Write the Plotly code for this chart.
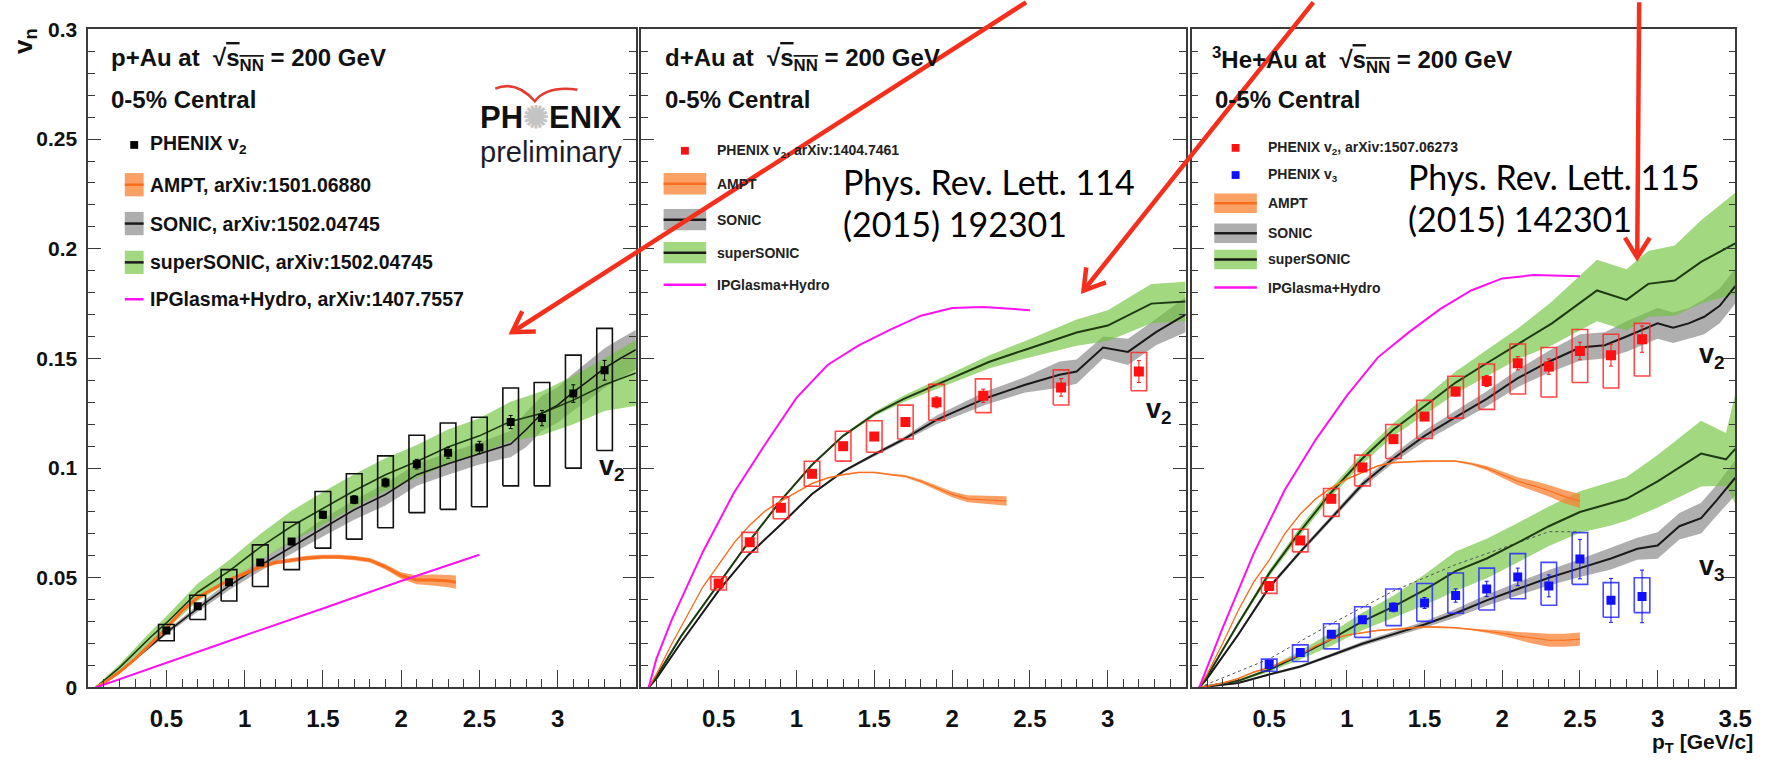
import math
import plotly.graph_objects as go

W, H = 1780, 778

# ---------------- p+Au, 0-5% central ----------------
pAu_pt = [0.5, 0.7, 0.9, 1.1, 1.3, 1.5, 1.7, 1.9, 2.1, 2.3, 2.5, 2.7, 2.9, 3.1, 3.3]
pAu_v2 = [0.026, 0.037, 0.048, 0.057, 0.0665, 0.0787, 0.0856, 0.0934, 0.1018, 0.107, 0.1094, 0.121, 0.1228, 0.134, 0.1446]
pAu_v2_stat = [0.0008, 0.001, 0.001, 0.0012, 0.0014, 0.0016, 0.0018, 0.002, 0.0022, 0.0025, 0.0028, 0.003, 0.0035, 0.004, 0.0045]
pAu_v2_sys_lo = [0.0213, 0.031, 0.0394, 0.046, 0.0537, 0.0635, 0.0676, 0.0728, 0.0797, 0.0812, 0.0824, 0.0919, 0.0919, 0.100, 0.108]
pAu_v2_sys_hi = [0.0287, 0.042, 0.0537, 0.065, 0.0753, 0.0893, 0.0974, 0.1056, 0.115, 0.1206, 0.1232, 0.1365, 0.139, 0.1515, 0.1637]

pAu_ampt_pt = [0.05, 0.1, 0.2, 0.3, 0.4, 0.5, 0.6, 0.7, 0.8, 0.9, 1.0, 1.1, 1.2, 1.3, 1.4, 1.5, 1.6, 1.7, 1.8, 1.9, 2.0, 2.1, 2.2, 2.3, 2.35]
pAu_ampt_v2 = [0.0, 0.002, 0.007, 0.013, 0.020, 0.027, 0.035, 0.041, 0.045, 0.049, 0.052, 0.055, 0.057, 0.058, 0.059, 0.0595, 0.0595, 0.059, 0.058, 0.055, 0.051, 0.049, 0.049, 0.0485, 0.048]
pAu_ampt_err = [0.0005, 0.0005, 0.0006, 0.0006, 0.0007, 0.0007, 0.0008, 0.0008, 0.0008, 0.0009, 0.0009, 0.001, 0.001, 0.001, 0.001, 0.001, 0.001, 0.001, 0.001, 0.0012, 0.0015, 0.002, 0.0025, 0.0028, 0.003]

pAu_sonic_pt = [0.05, 0.1, 0.2, 0.3, 0.4, 0.5, 0.7, 0.9, 1.1, 1.3, 1.5, 1.7, 1.9, 2.1, 2.3, 2.5, 2.7, 2.8, 2.9, 3.0, 3.1, 3.2, 3.3, 3.4, 3.5]
pAu_sonic_v2 = [0.0, 0.002, 0.007, 0.013, 0.019, 0.025, 0.036, 0.0463, 0.0556, 0.064, 0.0728, 0.081, 0.088, 0.097, 0.102, 0.1066, 0.111, 0.1176, 0.125, 0.1287, 0.1346, 0.14, 0.1456, 0.15, 0.154]
pAu_sonic_err = [0.0005, 0.0005, 0.0006, 0.0008, 0.001, 0.001, 0.0015, 0.002, 0.0025, 0.003, 0.004, 0.0045, 0.005, 0.005, 0.005, 0.005, 0.006, 0.008, 0.008, 0.008, 0.0085, 0.009, 0.009, 0.009, 0.009]

pAu_super_pt = [0.05, 0.1, 0.2, 0.3, 0.4, 0.5, 0.7, 0.9, 1.1, 1.3, 1.5, 1.7, 1.9, 2.1, 2.3, 2.5, 2.7, 2.9, 3.1, 3.3, 3.5]
pAu_super_v2 = [0.0, 0.003, 0.009, 0.016, 0.023, 0.0294, 0.0434, 0.053, 0.064, 0.0735, 0.0816, 0.0897, 0.097, 0.103, 0.1096, 0.1147, 0.1213, 0.125, 0.131, 0.138, 0.1434]
pAu_super_err = [0.0005, 0.001, 0.0015, 0.002, 0.0025, 0.003, 0.004, 0.005, 0.006, 0.007, 0.0075, 0.0075, 0.0075, 0.0075, 0.008, 0.008, 0.009, 0.01, 0.011, 0.012, 0.015]

pAu_ipg_pt = [0.05, 0.5, 1.0, 1.5, 2.0, 2.5]
pAu_ipg_v2 = [0.0, 0.0113, 0.0237, 0.036, 0.0485, 0.0605]

# ---------------- d+Au, 0-5% central ----------------
dAu_pt = [0.5, 0.7, 0.9, 1.1, 1.3, 1.5, 1.7, 1.9, 2.2, 2.7, 3.2]
dAu_v2 = [0.0474, 0.0662, 0.0819, 0.0974, 0.110, 0.1144, 0.121, 0.130, 0.133, 0.1368, 0.144]
dAu_v2_stat = [0.0008, 0.001, 0.0012, 0.0014, 0.0016, 0.0018, 0.002, 0.0025, 0.003, 0.004, 0.005]
dAu_v2_sys = [0.003, 0.0045, 0.005, 0.0057, 0.0068, 0.0072, 0.0077, 0.0082, 0.0077, 0.008, 0.0087]

dAu_ampt_pt = [0.05, 0.1, 0.2, 0.3, 0.4, 0.5, 0.6, 0.7, 0.8, 0.9, 1.0, 1.1, 1.2, 1.3, 1.4, 1.5, 1.6, 1.7, 1.8, 1.9, 2.0, 2.1, 2.2, 2.3, 2.35]
dAu_ampt_v2 = [0.0, 0.006, 0.02, 0.033, 0.046, 0.056, 0.066, 0.074, 0.0805, 0.085, 0.089, 0.093, 0.0955, 0.097, 0.098, 0.098, 0.097, 0.0963, 0.094, 0.091, 0.088, 0.086, 0.0855, 0.0852, 0.085]
dAu_ampt_err = [0.0004] * 16 + [0.0005, 0.0006, 0.0008, 0.001, 0.0013, 0.0016, 0.0019, 0.0021, 0.0022]

dAu_sonic_pt = [0.05, 0.1, 0.26, 0.5, 0.69, 0.9, 1.1, 1.3, 1.51, 1.69, 1.9, 2.22, 2.47, 2.69, 2.8, 2.97, 3.13, 3.31, 3.5]
dAu_sonic_v2 = [0.0, 0.004, 0.0206, 0.0441, 0.0603, 0.0743, 0.0882, 0.0985, 0.1066, 0.1132, 0.122, 0.132, 0.138, 0.1426, 0.144, 0.155, 0.153, 0.162, 0.170]
dAu_sonic_err = [0.0005, 0.0005, 0.0005, 0.0005, 0.0005, 0.0005, 0.0005, 0.0005, 0.0008, 0.001, 0.002, 0.003, 0.0035, 0.006, 0.0055, 0.005, 0.006, 0.006, 0.008]

dAu_super_pt = [0.05, 0.1, 0.26, 0.5, 0.69, 0.9, 1.1, 1.3, 1.51, 1.69, 1.9, 2.24, 2.47, 2.8, 3.0, 3.28, 3.5]
dAu_super_v2 = [0.0, 0.005, 0.0235, 0.047, 0.066, 0.0853, 0.1015, 0.1147, 0.125, 0.1316, 0.138, 0.1485, 0.154, 0.1618, 0.165, 0.175, 0.176]
dAu_super_err = [0.0005, 0.0005, 0.0005, 0.0005, 0.0005, 0.0005, 0.0005, 0.0005, 0.001, 0.0015, 0.002, 0.003, 0.004, 0.006, 0.007, 0.009, 0.009]

dAu_ipg_pt = [0.05, 0.1, 0.2, 0.4, 0.6, 0.8, 1.0, 1.2, 1.4, 1.6, 1.8, 2.0, 2.2, 2.5]
dAu_ipg_v2 = [0.0, 0.013, 0.031, 0.062, 0.089, 0.111, 0.132, 0.147, 0.156, 0.163, 0.1695, 0.173, 0.1735, 0.172]

# ---------------- 3He+Au, 0-5% central ----------------
he_pt = [0.5, 0.7, 0.9, 1.1, 1.3, 1.5, 1.7, 1.9, 2.1, 2.3, 2.5, 2.7, 2.9]
he_v2 = [0.0463, 0.067, 0.086, 0.1003, 0.1132, 0.1235, 0.1349, 0.1397, 0.1478, 0.1463, 0.1534, 0.1515, 0.1588]
he_v2_stat = [0.0008, 0.001, 0.0012, 0.0013, 0.0015, 0.0017, 0.002, 0.0025, 0.003, 0.0035, 0.004, 0.005, 0.006]
he_v2_sys_lo = [0.0429, 0.0618, 0.078, 0.0919, 0.1044, 0.1135, 0.1228, 0.1268, 0.1338, 0.1324, 0.139, 0.1365, 0.142]
he_v2_sys_hi = [0.050, 0.0721, 0.0907, 0.1059, 0.1199, 0.1309, 0.1419, 0.1475, 0.1566, 0.155, 0.1632, 0.161, 0.166]
he_v3 = [0.0105, 0.0159, 0.0243, 0.0309, 0.0365, 0.0385, 0.0419, 0.0449, 0.0504, 0.0463, 0.0585, 0.0397, 0.0415]
he_v3_stat = [0.0008, 0.001, 0.0012, 0.0015, 0.002, 0.0025, 0.003, 0.0035, 0.004, 0.005, 0.009, 0.01, 0.012]
he_v3_sys_lo = [0.0074, 0.0118, 0.0176, 0.0228, 0.0282, 0.0301, 0.0338, 0.0353, 0.0404, 0.0375, 0.047, 0.032, 0.0341]
he_v3_sys_hi = [0.0129, 0.0194, 0.029, 0.0368, 0.0449, 0.0474, 0.0522, 0.0544, 0.061, 0.057, 0.0706, 0.0478, 0.050]

he_ampt_pt = [0.05, 0.1, 0.2, 0.3, 0.4, 0.5, 0.6, 0.7, 0.8, 0.9, 1.0, 1.1, 1.2, 1.3, 1.4, 1.5, 1.6, 1.7, 1.8, 1.9, 2.0, 2.1, 2.2, 2.3, 2.4, 2.5]
he_ampt_v2 = [0.0, 0.006, 0.02, 0.035, 0.048, 0.058, 0.07, 0.079, 0.086, 0.091, 0.095, 0.098, 0.101, 0.1025, 0.103, 0.1032, 0.1032, 0.1032, 0.102, 0.100, 0.097, 0.094, 0.092, 0.0897, 0.087, 0.085]
he_ampt_v2_err = [0.0004] * 18 + [0.0006, 0.001, 0.0014, 0.0018, 0.0022, 0.0026, 0.003, 0.0032]
he_ampt_v3 = [0.0, 0.0005, 0.002, 0.004, 0.007, 0.009, 0.012, 0.015, 0.019, 0.022, 0.0238, 0.025, 0.026, 0.0265, 0.027, 0.0276, 0.0275, 0.0272, 0.0265, 0.0257, 0.0247, 0.0235, 0.0224, 0.0215, 0.0215, 0.022]
he_ampt_v3_err = [0.0004] * 19 + [0.0008, 0.0012, 0.0018, 0.0025, 0.003, 0.003, 0.003]

he_sonic_v2_pt = [0.05, 0.1, 0.3, 0.5, 0.7, 0.9, 1.1, 1.3, 1.5, 1.7, 1.9, 2.1, 2.3, 2.5, 2.66, 2.8, 2.9, 3.0, 3.1, 3.2, 3.3, 3.4, 3.5]
he_sonic_v2 = [0.0, 0.004, 0.024, 0.0456, 0.0618, 0.0772, 0.0926, 0.1044, 0.1147, 0.1232, 0.1316, 0.141, 0.1485, 0.155, 0.156, 0.160, 0.163, 0.166, 0.164, 0.166, 0.169, 0.174, 0.183]
he_sonic_v2_err = [0.0005, 0.0005, 0.0008, 0.001, 0.001, 0.0012, 0.0015, 0.002, 0.0025, 0.003, 0.0035, 0.004, 0.005, 0.006, 0.006, 0.007, 0.007, 0.007, 0.007, 0.007, 0.008, 0.008, 0.008]

he_super_v2_pt = [0.05, 0.1, 0.3, 0.5, 0.7, 0.9, 1.1, 1.3, 1.5, 1.7, 1.9, 2.1, 2.32, 2.61, 2.8, 2.94, 3.11, 3.28, 3.5]
he_super_v2 = [0.0, 0.005, 0.029, 0.052, 0.0713, 0.089, 0.1044, 0.1176, 0.1282, 0.139, 0.1478, 0.1566, 0.166, 0.181, 0.1767, 0.184, 0.1855, 0.194, 0.2025]
he_super_v2_err = [0.0005, 0.0005, 0.001, 0.0015, 0.002, 0.002, 0.0025, 0.003, 0.004, 0.005, 0.006, 0.007, 0.01, 0.014, 0.014, 0.015, 0.016, 0.019, 0.023]

he_sonic_v3_pt = [0.05, 0.3, 0.5, 0.7, 0.9, 1.1, 1.3, 1.5, 1.7, 1.9, 2.1, 2.3, 2.5, 2.7, 2.87, 3.0, 3.14, 3.28, 3.38, 3.5]
he_sonic_v3 = [0.0, 0.002, 0.0059, 0.0095, 0.0147, 0.0199, 0.0243, 0.0287, 0.0338, 0.0397, 0.0449, 0.050, 0.0544, 0.0588, 0.0632, 0.0647, 0.0735, 0.0772, 0.0853, 0.0956]
he_sonic_v3_err = [0.0003, 0.0003, 0.0005, 0.0006, 0.0008, 0.001, 0.0012, 0.0015, 0.002, 0.0025, 0.003, 0.0035, 0.004, 0.005, 0.005, 0.006, 0.006, 0.007, 0.007, 0.008]

he_super_v3_pt = [0.05, 0.3, 0.5, 0.7, 0.9, 1.1, 1.3, 1.5, 1.7, 1.9, 2.1, 2.3, 2.5, 2.7, 2.8, 3.0, 3.28, 3.44, 3.5]
he_super_v3 = [0.0, 0.003, 0.0081, 0.0147, 0.022, 0.0301, 0.0368, 0.0445, 0.053, 0.0588, 0.066, 0.0735, 0.080, 0.0838, 0.086, 0.094, 0.1066, 0.104, 0.1088]
he_super_v3_err = [0.0003, 0.0005, 0.001, 0.002, 0.003, 0.004, 0.005, 0.007, 0.009, 0.009, 0.009, 0.009, 0.0095, 0.01, 0.01, 0.012, 0.015, 0.012, 0.025]

he_thin_v3_pt = [0.05, 0.5, 0.9, 1.3, 1.7, 2.1, 2.3, 2.5]
he_thin_v3 = [0.0, 0.013, 0.029, 0.044, 0.056, 0.066, 0.071, 0.071]

he_ipg_pt = [0.05, 0.2, 0.4, 0.6, 0.8, 1.0, 1.2, 1.4, 1.6, 1.8, 2.0, 2.2, 2.5]
he_ipg_v2 = [0.0, 0.027, 0.061, 0.090, 0.113, 0.133, 0.1505, 0.162, 0.1725, 0.181, 0.1865, 0.188, 0.1875]

# axis ticks
x_ticks_12 = [0.5, 1, 1.5, 2, 2.5, 3]
x_ticks_3 = [0.5, 1, 1.5, 2, 2.5, 3, 3.5]

# ---------------- styles ----------------
SANS = "Liberation Sans, Arial, Helvetica, sans-serif"
SLIDE = "Lato, Open Sans, sans-serif"
AX = "#3a3a3a"
GREEN_BAND = "rgba(110,195,60,0.65)"
GRAY_BAND = "rgba(120,120,120,0.6)"
ORANGE_BAND = "rgba(250,130,50,0.75)"
ORANGE = "rgb(250,110,30)"
SUPER_LINE = "#1f3a12"
SONIC_LINE = "#1a1a1a"
MAGENTA = "#ff10f0"
RED = "#ff1010"
BLUE = "#1010ff"
ARROW_RED = "#f4301c"

fig = go.Figure()
AXES = [("x", "y"), ("x2", "y2"), ("x3", "y3")]


def band(x, y, hw, color, ax):
    up = [a + b for a, b in zip(y, hw)]
    lo = [a - b for a, b in zip(y, hw)]
    fig.add_trace(go.Scatter(x=list(x) + list(x)[::-1], y=up + lo[::-1], mode="lines",
                             fill="toself", fillcolor=color, line=dict(width=0),
                             xaxis=ax[0], yaxis=ax[1], hoverinfo="skip", showlegend=False))


def curve(x, y, color, width, ax, dash="solid"):
    fig.add_trace(go.Scatter(x=x, y=y, mode="lines", line=dict(color=color, width=width, dash=dash),
                             xaxis=ax[0], yaxis=ax[1], hoverinfo="skip", showlegend=False))


def sys_boxes(x, lo, hi, color, ax, hw=0.05, width=1.6):
    xs, ys = [], []
    for xi, l, h in zip(x, lo, hi):
        xs += [xi - hw, xi + hw, xi + hw, xi - hw, xi - hw, None]
        ys += [l, l, h, h, l, None]
    fig.add_trace(go.Scatter(x=xs, y=ys, mode="lines", line=dict(color=color, width=width),
                             xaxis=ax[0], yaxis=ax[1], hoverinfo="skip", showlegend=False))


def points(x, y, err, color, size, ax):
    fig.add_trace(go.Scatter(x=x, y=y, mode="markers",
                             marker=dict(symbol="square", size=size, color=color, line=dict(width=0)),
                             error_y=dict(type="data", array=err, visible=True, thickness=1, width=2, color=color),
                             xaxis=ax[0], yaxis=ax[1], hoverinfo="skip", showlegend=False))


# ---- panel 1: p+Au ----
a1 = AXES[0]
band(pAu_sonic_pt, pAu_sonic_v2, pAu_sonic_err, GRAY_BAND, a1)
band(pAu_super_pt, pAu_super_v2, pAu_super_err, GREEN_BAND, a1)
curve(pAu_sonic_pt, pAu_sonic_v2, SONIC_LINE, 1.6, a1)
curve(pAu_super_pt, pAu_super_v2, SUPER_LINE, 1.6, a1)
band(pAu_ampt_pt, pAu_ampt_v2, pAu_ampt_err, ORANGE_BAND, a1)
curve(pAu_ampt_pt, pAu_ampt_v2, ORANGE, 3, a1)
curve(pAu_ipg_pt, pAu_ipg_v2, MAGENTA, 2, a1)
sys_boxes(pAu_pt, pAu_v2_sys_lo, pAu_v2_sys_hi, "#111", a1)
points(pAu_pt, pAu_v2, pAu_v2_stat, "#000", 8, a1)

# ---- panel 2: d+Au ----
a2 = AXES[1]
band(dAu_sonic_pt, dAu_sonic_v2, dAu_sonic_err, GRAY_BAND, a2)
band(dAu_super_pt, dAu_super_v2, dAu_super_err, GREEN_BAND, a2)
curve(dAu_sonic_pt, dAu_sonic_v2, SONIC_LINE, 2, a2)
curve(dAu_super_pt, dAu_super_v2, SUPER_LINE, 2, a2)
band(dAu_ampt_pt, dAu_ampt_v2, dAu_ampt_err, ORANGE_BAND, a2)
curve(dAu_ampt_pt, dAu_ampt_v2, ORANGE, 1.2, a2)
curve(dAu_ipg_pt, dAu_ipg_v2, MAGENTA, 2, a2)
sys_boxes(dAu_pt, [v - s for v, s in zip(dAu_v2, dAu_v2_sys)],
          [v + s for v, s in zip(dAu_v2, dAu_v2_sys)], "rgba(255,40,40,0.85)", a2)
points(dAu_pt, dAu_v2, dAu_v2_stat, RED, 10, a2)

# ---- panel 3: 3He+Au ----
a3 = AXES[2]
band(he_sonic_v2_pt, he_sonic_v2, he_sonic_v2_err, GRAY_BAND, a3)
band(he_super_v2_pt, he_super_v2, he_super_v2_err, GREEN_BAND, a3)
band(he_sonic_v3_pt, he_sonic_v3, he_sonic_v3_err, GRAY_BAND, a3)
band(he_super_v3_pt, he_super_v3, he_super_v3_err, GREEN_BAND, a3)
curve(he_thin_v3_pt, he_thin_v3, "#555", 1, a3, dash="dot")
curve(he_sonic_v2_pt, he_sonic_v2, SONIC_LINE, 2, a3)
curve(he_super_v2_pt, he_super_v2, SUPER_LINE, 2, a3)
curve(he_sonic_v3_pt, he_sonic_v3, SONIC_LINE, 2, a3)
curve(he_super_v3_pt, he_super_v3, SUPER_LINE, 2, a3)
band(he_ampt_pt, he_ampt_v2, he_ampt_v2_err, ORANGE_BAND, a3)
band(he_ampt_pt, he_ampt_v3, he_ampt_v3_err, ORANGE_BAND, a3)
curve(he_ampt_pt, he_ampt_v2, ORANGE, 1.2, a3)
curve(he_ampt_pt, he_ampt_v3, ORANGE, 1.2, a3)
curve(he_ipg_pt, he_ipg_v2, MAGENTA, 2, a3)
sys_boxes(he_pt, he_v2_sys_lo, he_v2_sys_hi, "rgba(255,40,40,0.85)", a3)
sys_boxes(he_pt, he_v3_sys_lo, he_v3_sys_hi, "rgba(40,40,255,0.85)", a3)
points(he_pt, he_v2, he_v2_stat, RED, 10, a3)
points(he_pt, he_v3, he_v3_stat, BLUE, 9, a3)


# ---------------- axes ----------------
def px(x):
    return x / W


def py(y):
    return 1 - y / H


X_DOMAINS = [(89, 642), (647, 1197), (1203, 1752)]
Y_TOP, Y_BOT = 18, 696
XTICKFONT = dict(family=SANS, size=24, color="#111", weight=700)
YTICKFONT = dict(family=SANS, size=21, color="#111", weight=700)

layout_axes = {}
for i, (x0, x1) in enumerate(X_DOMAINS):
    sfx = "" if i == 0 else str(i + 1)
    ticks = x_ticks_3 if i == 2 else x_ticks_12
    layout_axes["xaxis" + sfx] = dict(
        domain=[px(x0), px(x1)], range=[0, 3.5], anchor="y" + sfx,
        showline=True, linecolor=AX, linewidth=1.5, mirror=True,
        ticks="inside", ticklen=18, tickwidth=1.3, tickcolor=AX,
        tickmode="array", tickvals=ticks, ticktext=[f"{t:g}" for t in ticks],
        tickfont=XTICKFONT, ticklabelstandoff=9,
        minor=dict(ticks="inside", ticklen=9, tickwidth=1, tickcolor=AX, tickmode="linear", tick0=0, dtick=0.1),
        showgrid=False, zeroline=False, fixedrange=True)
    layout_axes["yaxis" + sfx] = dict(
        domain=[py(Y_BOT), py(Y_TOP)], range=[0, 0.3], anchor="x" + sfx,
        showline=True, linecolor=AX, linewidth=1.5, mirror="ticks",
        ticks="inside", ticklen=13, tickwidth=1.3, tickcolor=AX,
        tickmode="linear", tick0=0, dtick=0.05,
        minor=dict(ticks="inside", ticklen=7, tickwidth=1, tickcolor=AX, tickmode="linear", tick0=0, dtick=0.01),
        showticklabels=(i == 0), tickfont=YTICKFONT, ticklabelstandoff=5,
        showgrid=False, zeroline=False, fixedrange=True)

# ---------------- text ----------------
annotations = []


def text(s, x, y, size, family=SANS, color="#111", weight=700, xanchor="left", yanchor="middle", angle=0):
    annotations.append(dict(text=s, x=px(x), y=py(y), xref="paper", yref="paper",
                            xanchor=xanchor, yanchor=yanchor, showarrow=False, textangle=angle,
                            font=dict(family=family, size=size, color=color, weight=weight)))


def data_text(s, x, y, ax, size=27):
    annotations.append(dict(text=s, x=x, y=y, xref=ax[0], yref=ax[1], showarrow=False,
                            xanchor="center", yanchor="middle",
                            font=dict(family=SANS, size=size, color="#111", weight=700)))


ROOTS = "√<span style='text-decoration:overline'>s<sub>NN</sub></span>"
text(f"p+Au at  {ROOTS} = 200 GeV", 110, 49, 24)
text("0-5% Central", 110, 90, 24)
text(f"d+Au at  {ROOTS} = 200 GeV", 669, 49, 24)
text("0-5% Central", 669, 90, 24)
text(f"<sup>3</sup>He+Au at  {ROOTS} = 200 GeV", 1222, 49, 24)
text("0-5% Central", 1225, 90, 24)

# PHENIX preliminary tag
text("PH<span style='color:#c4c4c4'>✺</span>ENIX", 556, 109, 31, xanchor="center")
text("preliminary", 556, 144, 29, weight=400, color="#1c1c2c", xanchor="center")

# legends
leg1 = ["PHENIX v<sub>2</sub>", "AMPT, arXiv:1501.06880", "SONIC, arXiv:1502.04745",
        "superSONIC, arXiv:1502.04745", "IPGlasma+Hydro, arXiv:1407.7557"]
leg2 = ["PHENIX v<sub>2</sub>, arXiv:1404.7461", "AMPT", "SONIC", "superSONIC", "IPGlasma+Hydro"]
leg3 = ["PHENIX v<sub>2</sub>, arXiv:1507.06273", "PHENIX v<sub>3</sub>", "AMPT", "SONIC", "superSONIC",
        "IPGlasma+Hydro"]
leg1_y = [137, 178, 218, 258, 296]
leg2_y = [143, 177, 214, 248, 281]
leg3_y = [140, 168, 197, 228, 255, 284]

for s, y in zip(leg1, leg1_y):
    text(s, 149, y, 19.5)
for s, y in zip(leg2, leg2_y):
    text(s, 722, y, 14, color="#222")
for s, y in zip(leg3, leg3_y):
    text(s, 1278, y, 14, color="#222")

# v_n labels placed in data coordinates
data_text("v<sub>2</sub>", 3.35, 0.1, a1)
data_text("v<sub>2</sub>", 3.33, 0.126, a2)
data_text("v<sub>2</sub>", 3.35, 0.151, a3)
data_text("v<sub>3</sub>", 3.35, 0.0545, a3)

# axis titles
text("v<sub>n</sub>", 24, 30, 26, angle=-90, xanchor="center")
text("p<sub>T</sub> [GeV/c]", 1772, 753, 21, xanchor="right")

# journal references
text("Phys. Rev. Lett. 114", 849, 175, 34, family=SLIDE, weight=400, color="#000")
text("(2015) 192301", 849, 218, 34, family=SLIDE, weight=400, color="#000")
text("Phys. Rev. Lett. 115", 1420, 170, 34, family=SLIDE, weight=400, color="#000")
text("(2015) 142301", 1420, 213, 34, family=SLIDE, weight=400, color="#000")

# ---------------- shapes: legend swatches, logo swoosh, arrows ----------------
shapes = []


def rect(x0, y0, x1, y1, color):
    shapes.append(dict(type="rect", xref="paper", yref="paper", x0=px(x0), x1=px(x1), y0=py(y1), y1=py(y0),
                       fillcolor=color, line=dict(width=0), layer="above"))


def seg(x0, y0, x1, y1, color, width):
    shapes.append(dict(type="line", xref="paper", yref="paper", x0=px(x0), y0=py(y0), x1=px(x1), y1=py(y1),
                       line=dict(color=color, width=width), layer="above"))


def swatches(x0, x1, ys, half, marker_colors):
    n = len(marker_colors)
    cx = (x0 + x1) / 2
    for c, y in zip(marker_colors, ys[:n]):
        rect(cx - 4, y - 4, cx + 4, y + 4, c)
    yb = ys[n:]
    rect(x0, yb[0] - half, x1, yb[0] + half, ORANGE_BAND)
    seg(x0, yb[0], x1, yb[0], ORANGE, 2.5)
    rect(x0, yb[1] - half, x1, yb[1] + half, GRAY_BAND)
    seg(x0, yb[1], x1, yb[1], SONIC_LINE, 2.5)
    rect(x0, yb[2] - half, x1, yb[2] + half, GREEN_BAND)
    seg(x0, yb[2], x1, yb[2], SONIC_LINE, 2.5)
    seg(x0, yb[3], x1, yb[3], MAGENTA, 2.5)


swatches(126, 145, leg1_y, 12, ["#000"])
swatches(670, 713, leg2_y, 11, [RED])
swatches(1226, 1269, leg3_y, 10, [RED, BLUE])

# red swoosh of the PHENIX tag
shapes.append(dict(type="path", xref="paper", yref="paper",
                   path=f"M {px(500)} {py(79)} Q {px(521)} {py(70)} {px(540)} {py(92)} "
                        f"Q {px(552)} {py(76)} {px(583)} {py(80)}",
                   line=dict(color="#e43a30", width=2.5), layer="above"))


def arrow(x0, y0, x1, y1, arm=24, spread=0.55):
    seg(x0, y0, x1, y1, ARROW_RED, 4.5)
    dx, dy = x0 - x1, y0 - y1
    L = math.hypot(dx, dy)
    ux, uy = dx / L, dy / L
    pts = []
    for s in (spread, -spread):
        c, sn = math.cos(s), math.sin(s)
        pts.append((x1 + arm * (ux * c - uy * sn), y1 + arm * (ux * sn + uy * c)))
    shapes.append(dict(type="path", xref="paper", yref="paper",
                       path=f"M {px(pts[0][0])} {py(pts[0][1])} L {px(x1)} {py(y1)} L {px(pts[1][0])} {py(pts[1][1])}",
                       line=dict(color=ARROW_RED, width=4.5), layer="above"))


arrow(1036, -10, 517, 330)
arrow(1326, -10, 1094, 287)
arrow(1655, -10, 1653, 253)

fig.update_layout(
    width=W, height=H, margin=dict(l=0, r=0, t=0, b=0),
    paper_bgcolor="white", plot_bgcolor="white",
    showlegend=False, hovermode=False,
    annotations=annotations, shapes=shapes,
    **layout_axes)

fig.write_html("out.html")
